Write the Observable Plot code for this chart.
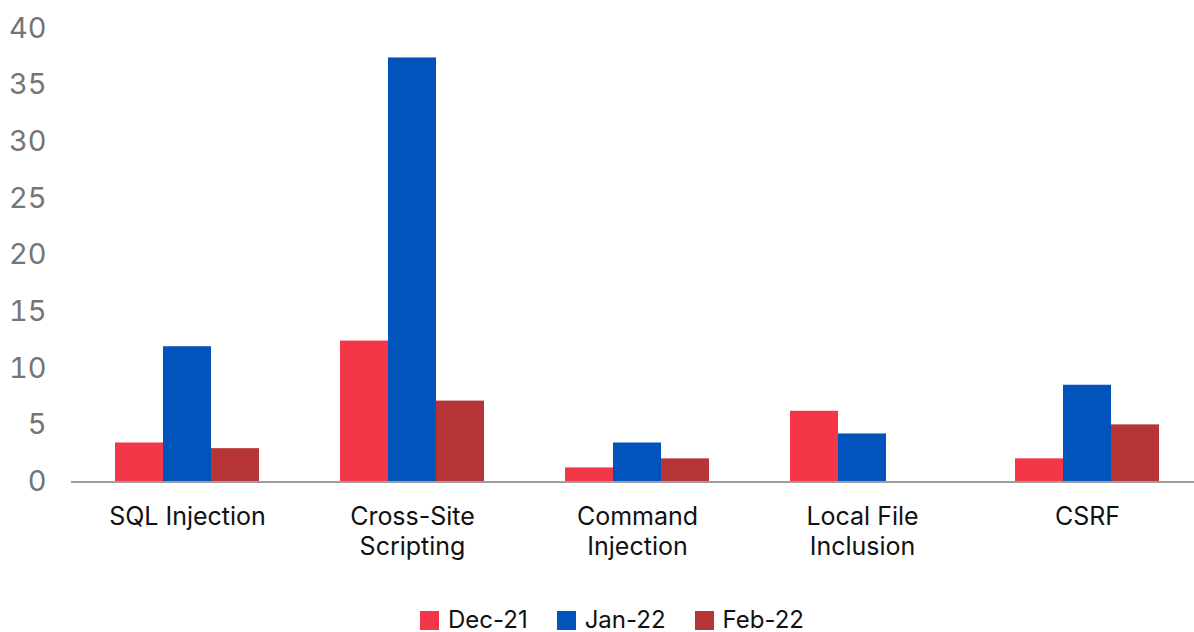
<!DOCTYPE html>
<html>
<head>
<meta charset="utf-8">
<script src="https://cdn.jsdelivr.net/npm/d3@7"></script>
<script src="https://cdn.jsdelivr.net/npm/@observablehq/plot@0.6"></script>
<style>
  html, body { margin: 0; padding: 0; background: #fff; overflow: hidden; }
  #chart svg { display: block; overflow: visible; }
  #legend { display: flex; align-items: center; padding-left: 420px; height: 26px; margin-top: 27px;
            font-family: Inter, "Open Sans", sans-serif; font-size: 24px; line-height: 26px; color: #111; }
  #legend .item { display: flex; align-items: center; margin-right: 29px; }
  #legend .sw { width: 19px; height: 19px; margin-right: 9px; }
</style>
</head>
<body>
<div id="chart"></div>
<div id="legend"></div>
<script>
const categories = ["SQL Injection", "Cross-Site\nScripting", "Command\nInjection", "Local File\nInclusion", "CSRF"];
const seriesNames = ["Dec-21", "Jan-22", "Feb-22"];
const dec21 = [3.4, 12.4, 1.2, 6.2, 2.0];
const jan22 = [11.9, 37.4, 3.4, 4.2, 8.5];
const feb22 = [2.9, 7.1, 2.0, 0, 5.0];
const colors = ["#F43748", "#0054BC", "#B83537"];
const yTicks = [0, 5, 10, 15, 20, 25, 30, 35, 40];

const seriesValues = [dec21, jan22, feb22];
const data = [];
categories.forEach((c, i) => {
  seriesNames.forEach((s, j) => data.push({category: c, series: s, value: seriesValues[j][i]}));
});

const chart = Plot.plot({
  width: 1194,
  height: 580,
  marginLeft: 73,
  marginRight: -6,
  marginTop: 28,
  marginBottom: 99,
  style: {fontFamily: "Inter, 'Open Sans', sans-serif", background: "#fff"},
  fx: {domain: categories, paddingInner: 0.36, paddingOuter: 0.18, label: null},
  x: {domain: seriesNames, padding: 0, axis: null},
  y: {domain: [0, 40], ticks: yTicks, label: null},
  color: {domain: seriesNames, range: colors},
  marks: [
    Plot.ruleY([0], {stroke: "#9e9e9e", strokeWidth: 2, insetLeft: -44, insetRight: -42, shapeRendering: "crispEdges"}),
    Plot.barY(data, {fx: "category", x: "series", y: "value", fill: "series"}),
    Plot.axisY({ticks: yTicks, tickSize: 0, tickPadding: 69, fontSize: 29, color: "#757575", label: null}),
    Plot.axisFx({anchor: "bottom", tickSize: 0, tickPadding: 22, fontSize: 25, lineHeight: 1.2, color: "#111", label: null})
  ]
});
document.getElementById("chart").appendChild(chart);

const legend = document.getElementById("legend");
seriesNames.forEach((s, i) => {
  const it = document.createElement("div");
  it.className = "item";
  it.innerHTML = `<div class="sw" style="background:${colors[i]}"></div><span>${s}</span>`;
  legend.appendChild(it);
});
</script>
</body>
</html>
